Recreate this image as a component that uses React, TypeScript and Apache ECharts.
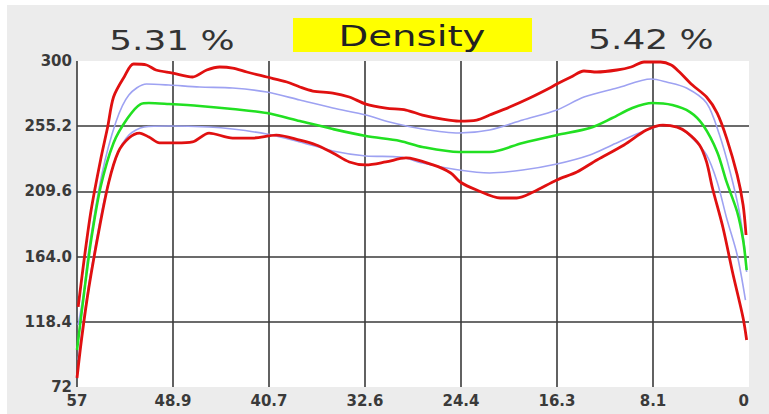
import React, { useEffect, useRef } from "react";
import * as echarts from "echarts";

// y-axis tick labels (bottom to top) and x-axis range
const yTickLabels = ["72", "118.4", "164.0", "209.6", "255.2", "300"];
const yMin = 72;
const yMax = 300;
const xMin = 0;
const xMax = 57;

const leftPercent = "5.31 %";
const rightPercent = "5.42 %";
const titleText = "Density";

// [x, y] points, x runs from 57 (left) to 0 (right)
const upperRed: number[][] = [
  [56.9, 128.0], [56.4, 160.8], [55.8, 195.8], [55.0, 230.8], [54.4, 253.8],
  [53.9, 274.8], [53.0, 288.8], [52.2, 297.9], [51.1, 297.2], [50.3, 293.7],
  [48.9, 291.6], [47.2, 288.8], [46.0, 293.7], [44.9, 295.8], [43.8, 295.1],
  [42.6, 292.3], [40.9, 288.8], [39.2, 285.3], [38.1, 281.8], [37.0, 279.0],
  [35.3, 277.6], [33.9, 274.8], [32.5, 269.9], [30.8, 267.1], [29.1, 265.7],
  [27.7, 262.2], [26.0, 259.4], [24.6, 258.0], [23.1, 258.7], [22.0, 262.2],
  [20.3, 267.8], [18.6, 274.1], [16.9, 281.1], [16.3, 283.9], [15.1, 288.8],
  [14.0, 293.0], [12.9, 292.3], [11.2, 293.7], [10.0, 295.8], [8.9, 299.3],
  [7.5, 299.3], [6.6, 297.2], [5.9, 292.3], [4.8, 283.2], [3.6, 274.8],
  [2.7, 263.6], [1.9, 246.1], [1.0, 220.3], [0.5, 199.3], [0.25, 178.3],
];

const upperBlue: number[][] = [
  [56.9, 115.4], [56.4, 139.8], [56.0, 167.8], [54.9, 220.3], [53.7, 257.3],
  [52.6, 276.2], [51.1, 283.9], [49.2, 283.2], [46.6, 281.8], [43.8, 281.1],
  [40.9, 278.3], [38.1, 272.7], [35.3, 267.1], [32.5, 262.2], [30.5, 257.3],
  [27.7, 252.4], [24.6, 249.6], [22.0, 251.7], [19.2, 258.7], [16.3, 265.7],
  [14.0, 274.8], [11.2, 281.1], [8.3, 287.4], [7.0, 285.3], [5.3, 281.1],
  [3.6, 270.6], [2.5, 248.2], [1.6, 222.4], [0.85, 195.8], [0.4, 171.3],
  [0.2, 152.4],
];

const middleGreen: number[][] = [
  [57.0, 97.9], [56.4, 137.7], [55.8, 174.8], [55.0, 211.9], [53.9, 242.7],
  [52.7, 260.1], [51.6, 269.9], [50.9, 270.6], [49.2, 269.9], [46.6, 268.5],
  [43.8, 266.4], [40.9, 263.6], [38.1, 258.0], [35.3, 252.4], [32.5, 247.5],
  [29.6, 244.1], [27.7, 239.9], [24.6, 236.4], [22.0, 236.4], [19.2, 242.7],
  [16.3, 248.2], [13.5, 253.1], [11.6, 260.1], [9.9, 267.1], [8.2, 270.6],
  [6.5, 269.2], [5.0, 264.3], [3.9, 255.2], [2.7, 236.4], [1.9, 215.4],
  [1.0, 194.4], [0.5, 174.8], [0.2, 153.8],
];

const lowerBlue: number[][] = [
  [56.9, 90.9], [56.2, 132.8], [55.5, 167.8], [54.6, 206.3], [53.6, 234.3],
  [52.6, 248.2], [51.3, 253.8], [49.2, 254.5], [45.8, 253.8], [43.8, 252.4],
  [40.9, 248.9], [38.1, 243.4], [35.3, 237.1], [32.5, 233.6], [29.6, 232.9],
  [27.7, 228.7], [24.6, 223.8], [22.0, 221.7], [19.2, 223.8], [16.3, 228.0],
  [13.5, 234.3], [11.6, 241.3], [8.7, 251.7], [7.0, 255.2], [5.9, 253.1],
  [4.8, 246.1], [3.6, 234.3], [2.7, 215.4], [1.9, 190.2], [1.0, 164.3],
  [0.3, 132.8],
];

const lowerRed: number[][] = [
  [57.0, 78.3], [56.6, 106.3], [56.0, 141.2], [55.1, 183.2], [54.3, 215.4],
  [53.5, 236.4], [52.6, 246.1], [51.7, 249.6], [50.9, 246.8], [50.0, 242.7],
  [48.6, 242.7], [47.2, 243.4], [45.8, 249.6], [43.8, 246.1], [42.1, 246.1],
  [40.1, 248.2], [38.1, 244.7], [36.7, 241.3], [35.3, 235.7], [33.9, 229.4],
  [32.5, 227.3], [30.8, 229.4], [29.1, 232.2], [26.8, 227.3], [25.3, 221.7],
  [24.5, 215.4], [23.1, 209.8], [21.1, 204.2], [19.7, 204.2], [18.3, 208.4],
  [16.3, 216.8], [14.6, 222.4], [12.9, 230.8], [10.6, 241.3], [8.7, 251.7],
  [7.3, 255.2], [6.1, 253.8], [5.3, 250.3], [4.2, 241.3], [3.6, 229.4],
  [3.1, 211.2], [2.2, 183.2], [1.4, 152.4], [0.5, 120.3], [0.2, 104.9],
];

const RED = "#e01010";
const GREEN = "#22e022";
const BLUE = "#9ea2f2";
const GRIDLINE = "#3a3a3a";
const FONT = "'DejaVu Sans', Verdana, sans-serif";

export default function App() {
  const ref = useRef<HTMLDivElement>(null);

  useEffect(() => {
    if (!ref.current) return;
    const chart = echarts.init(ref.current, undefined, { renderer: "svg" });
    const yInterval = (yMax - yMin) / 5;
    const xInterval = (xMax - xMin) / 7;

    const lineSeries = (data: number[][], color: string, width: number) => ({
      type: "line",
      data,
      showSymbol: false,
      smooth: 0.3,
      lineStyle: { color, width },
      silent: true,
    });

    chart.setOption({
      animation: false,
      backgroundColor: "#ececec",
      grid: {
        left: 77,
        right: 20,
        top: 61,
        bottom: 27,
        show: true,
        backgroundColor: "#ffffff",
        borderWidth: 0,
      },
      xAxis: {
        type: "value",
        min: xMin,
        max: xMax,
        interval: xInterval,
        inverse: true,
        axisLine: { show: false },
        axisTick: { show: false },
        splitLine: {
          show: true,
          showMinLine: false,
          showMaxLine: false,
          lineStyle: { color: GRIDLINE, width: 1.6 },
        },
        axisLabel: {
          margin: 6,
          fontSize: 15,
          fontWeight: "bold",
          fontFamily: FONT,
          color: "#3a3a3a",
          alignMinLabel: "right",
          alignMaxLabel: "left",
          formatter: (v: number) => {
            const r = Math.round(v * 10) / 10;
            return Number.isInteger(r) ? String(r) : r.toFixed(1);
          },
        },
      },
      yAxis: {
        type: "value",
        min: yMin,
        max: yMax,
        interval: yInterval,
        axisLine: { show: false },
        axisTick: { show: false },
        splitLine: {
          show: true,
          showMinLine: false,
          showMaxLine: false,
          lineStyle: { color: GRIDLINE, width: 1.6 },
        },
        axisLabel: {
          margin: 5,
          fontSize: 15,
          fontWeight: "bold",
          fontFamily: FONT,
          color: "#3a3a3a",
          formatter: (v: number) => {
            const i = Math.round((v - yMin) / yInterval);
            return yTickLabels[i] ?? "";
          },
        },
      },
      graphic: [
        { type: "rect", shape: { x: 0, y: 0, width: 769, height: 5 }, style: { fill: "#ffffff" }, silent: true },
        { type: "rect", shape: { x: 0, y: 0, width: 7, height: 414 }, style: { fill: "#ffffff" }, silent: true },
        { type: "rect", shape: { x: 293, y: 18, width: 239, height: 34 }, style: { fill: "#ffff00" }, silent: true },
        {
          type: "text",
          x: 412,
          y: 36,
          scaleX: 1.38,
          style: {
            text: titleText,
            fontSize: 28,
            fontFamily: FONT,
            fill: "#222222",
            align: "center",
            verticalAlign: "middle",
          },
          silent: true,
        },
        {
          type: "text",
          x: 172,
          y: 41,
          scaleX: 1.33,
          style: {
            text: leftPercent,
            fontSize: 27,
            fontFamily: FONT,
            fill: "#333333",
            align: "center",
            verticalAlign: "middle",
          },
          silent: true,
        },
        {
          type: "text",
          x: 651,
          y: 40,
          scaleX: 1.33,
          style: {
            text: rightPercent,
            fontSize: 27,
            fontFamily: FONT,
            fill: "#333333",
            align: "center",
            verticalAlign: "middle",
          },
          silent: true,
        },
      ],
      series: [
        lineSeries(upperBlue, BLUE, 1.6),
        lineSeries(lowerBlue, BLUE, 1.6),
        lineSeries(middleGreen, GREEN, 2.6),
        lineSeries(upperRed, RED, 2.8),
        lineSeries(lowerRed, RED, 2.8),
      ],
    });

    return () => chart.dispose();
  }, []);

  return (
    <div
      ref={ref}
      style={{ position: "fixed", left: 0, top: 0, width: 769, height: 414 }}
    />
  );
}
